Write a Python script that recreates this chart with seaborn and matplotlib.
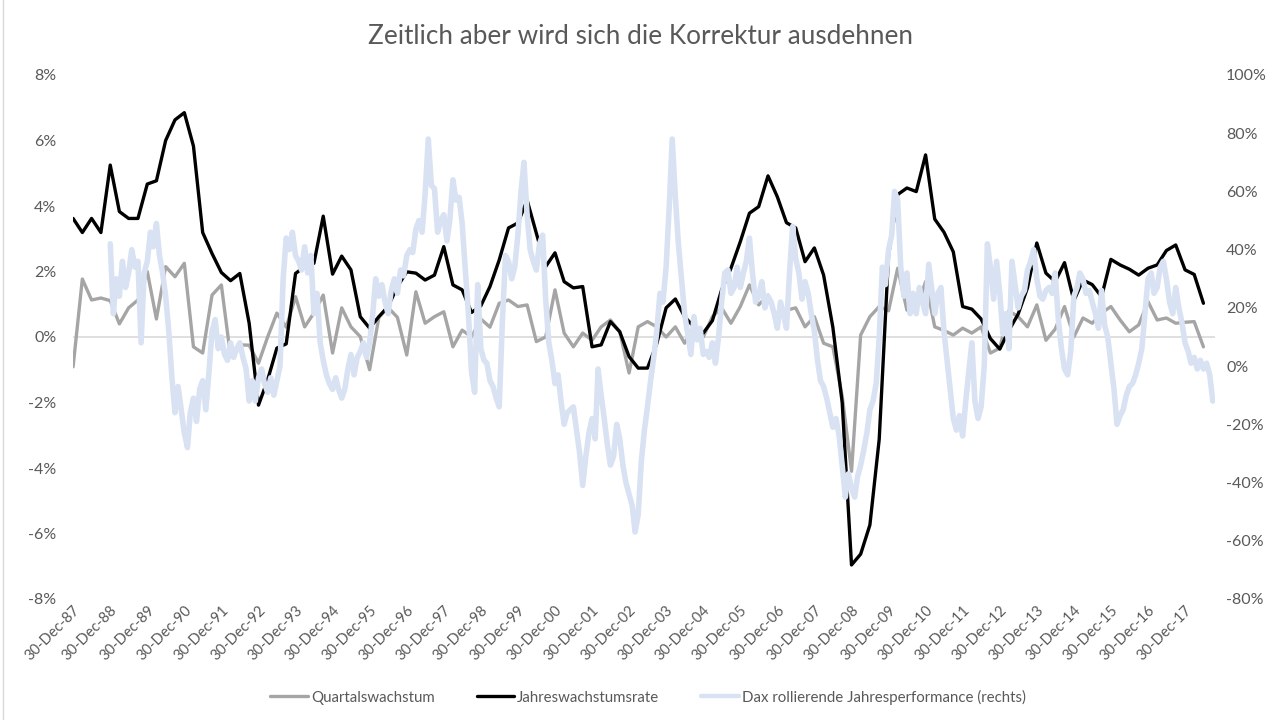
import pandas as pd
import matplotlib
matplotlib.use("Agg")
import matplotlib.pyplot as plt
from matplotlib.lines import Line2D
from matplotlib.ticker import MultipleLocator, FuncFormatter
import matplotlib.dates as mdates
import seaborn as sns

# Quartalsdaten (erster Punkt liegt auf dem Dec-87 Tick)
quarter_start = "1987-12-31"

# Quartalswachstum in %
quartal = [
    -0.91, 1.77, 1.13, 1.19, 1.11, 0.40, 0.89, 1.13, 2.00, 0.55, 2.15, 1.84, 2.25,
    -0.30, -0.49, 1.28, 1.59, -0.60, -0.24, -0.25, -0.80, 0.00, 0.73, 0.30, 1.23,
    0.31, 0.73, 1.28, -0.49, 0.89, 0.31, 0.01, -1.00, 0.60, 0.90, 0.60, -0.55,
    1.38, 0.42, 0.62, 0.77, -0.30, 0.21, 0.00, 0.55, 0.30, 1.03, 1.13, 0.93,
    0.98, -0.14, 0.00, 1.44, 0.12, -0.30, 0.12, -0.10, 0.31, 0.52, 0.16, -1.10,
    0.31, 0.47, 0.31, 0.00, 0.31, -0.19, 0.31, 0.00, 0.62, 0.89, 0.42, 0.93,
    1.59, 0.98, 1.28, 0.52, 0.82, 0.89, 0.31, 0.62, -0.19, -0.30, -1.80, -4.10,
    0.06, 0.62, 0.93, 0.80, 2.10, 0.82, 0.82, 1.69, 0.31, 0.20, 0.06, 0.27,
    0.12, 0.31, -0.49, -0.34, 0.80, 0.62, 0.31, 0.98, -0.10, 0.24, 0.93, 0.00,
    0.58, 0.42, 0.73, 0.93, 0.52, 0.16, 0.37, 1.08, 0.52, 0.58, 0.42, 0.45,
    0.47, -0.30,
]

# Jahreswachstumsrate in %
jahres = [
    3.62, 3.19, 3.62, 3.19, 5.25, 3.83, 3.62, 3.62, 4.67, 4.77, 6.00, 6.63, 6.85,
    5.83, 3.19, 2.55, 1.97, 1.72, 1.94, 0.42, -2.08, -1.31, -0.34, -0.21, 1.94,
    2.15, 2.25, 3.69, 1.92, 2.47, 2.05, 0.62, 0.27, 0.62, 0.93, 1.54, 1.99,
    1.95, 1.74, 1.89, 2.76, 1.59, 1.44, 0.75, 0.95, 1.54, 2.35, 3.33, 3.48,
    4.18, 3.17, 2.15, 2.57, 1.69, 1.50, 1.54, -0.30, -0.24, 0.47, 0.16, -0.60,
    -0.95, -0.95, -0.20, 0.89, 1.16, 0.62, 0.31, 0.12, 0.50, 1.44, 2.10, 2.91,
    3.78, 3.98, 4.92, 4.28, 3.49, 3.33, 2.30, 2.72, 1.89, 0.30, -2.00, -6.96,
    -6.63, -5.74, -3.12, 2.50, 4.35, 4.55, 4.44, 5.56, 3.60, 3.20, 2.60, 0.93,
    0.85, 0.55, -0.05, -0.37, 0.20, 0.70, 1.50, 2.87, 1.95, 1.69, 2.27, 1.11,
    1.74, 1.60, 1.23, 2.37, 2.20, 2.07, 1.89, 2.10, 2.20, 2.64, 2.81, 2.05,
    1.91, 1.03,
]

# Dax rollierende Jahresperformance in %, Monatsende ab Dec-88
dax_start = "1988-12-31"
dax_89_93 = [
    42, 18, 30, 24, 36, 27, 32, 40, 34, 36, 8, 32, 36,
    46, 41, 49, 38, 32, 24, 12, -4, -16, -7, -15, -23,
    -28, -16, -11, -19, -8, -5, -15, -2, 12, 16, 6, 10,
    4, 2, 8, 3, 6, 8, 3, -1, -12, -5, -12, -4,
    -1, -6, -9, -4, -10, -5, 0, 30, 44, 40, 46, 38,
]
dax_94_98 = [
    36, 33, 41, 32, 38, 18, 25, 8, 2, -3, -6, -8,
    -4, -8, -11, -8, -1, 4, -3, 3, 5, 8, 3, 8,
    18, 30, 24, 28, 22, 18, 26, 30, 25, 33, 31, 38,
    40, 39, 47, 50, 46, 59, 78, 62, 61, 46, 50, 52,
    43, 50, 64, 57, 58, 49, 33, 18, -2, -9, 28, 6,
]
dax_99_03 = [
    2, 1, -5, -7, -11, -14, 15, 38, 36, 30, 34, 45,
    60, 70, 52, 40, 36, 33, 42, 45, 23, 8, 2, -6,
    -3, -12, -20, -16, -15, -14, -22, -30, -41, -31, -23, -18,
    -25, -1, -10, -18, -27, -34, -31, -20, -25, -34, -40, -44,
    -48, -57, -51, -33, -22, -14, -5, 3, 12, 25, 22, 34,
]
dax_04_08 = [
    55, 78, 58, 42, 30, 18, 11, 4, 17, 9, 13, 4,
    5, 3, 8, 1, 10, 22, 32, 33, 25, 27, 34, 27,
    32, 36, 44, 32, 22, 24, 29, 20, 24, 22, 18, 13,
    22, 18, 13, 32, 48, 37, 32, 23, 29, 25, 18, 12,
    2, -5, -7, -11, -16, -21, -18, -24, -34, -45, -37, -42,
]
dax_09_13 = [
    -45, -38, -34, -29, -23, -15, -12, -6, 10, 34, 28, 40,
    45, 60, 57, 34, 24, 32, 18, 25, 18, 27, 22, 18,
    35, 27, 18, 25, 27, 12, 2, -8, -18, -22, -17, -24,
    -12, -2, 8, -12, -18, -14, 0, 42, 34, 23, 36, 25,
    11, 18, 6, 36, 28, 20, 24, 26, 33, 36, 40, 30,
]
dax_14_18 = [
    24, 23, 26, 27, 25, 32, 16, 6, -1, -3, 5, 24,
    27, 32, 30, 25, 26, 22, 18, 13, 26, 14, 10, 1,
    -8, -20, -17, -15, -10, -7, -6, -3, 1, 6, 18, 30,
    32, 25, 27, 34, 36, 30, 22, 18, 27, 20, 15, 8,
    5, 1, 3, -1, 2, -1, 1, -3, -12,
]
dax = dax_89_93 + dax_94_98 + dax_99_03 + dax_04_08 + dax_09_13 + dax_14_18

tick_years = list(range(1987, 2018))

label_q = "Quartalswachstum"
label_j = "Jahreswachstumsrate"
label_d = "Dax rollierende Jahresperformance (rechts)"

col_q = "#A5A5A5"
col_j = "#000000"
col_d = "#D9E2F3"
txt = "#595959"

sns.set_theme(style="white")
plt.rcParams["font.family"] = ["Lato", "DejaVu Sans"]

quarters = pd.date_range(quarter_start, periods=len(quartal), freq="QE")
months = pd.date_range(dax_start, periods=len(dax), freq="ME")

W, H = 1277, 720
fig = plt.figure(figsize=(W / 100, H / 100), dpi=100)
fig.patch.set_facecolor("white")
ax = fig.add_axes([73 / W, 1 - 599 / H, (1215 - 73) / W, (599 - 75) / H])
ax2 = ax.twinx()

ax.axhline(0, color="#D9D9D9", lw=1.2, zorder=0)
sns.lineplot(x=quarters, y=quartal, ax=ax, color=col_q, lw=2.4, legend=False)
sns.lineplot(x=quarters, y=jahres, ax=ax, color=col_j, lw=2.4, legend=False)
sns.lineplot(x=months, y=dax, ax=ax2, color=col_d, lw=4.0, legend=False)

# Achsen
pct = FuncFormatter(lambda v, p: f"{v:.0f}%")
ax.set_ylim(-8, 8)
ax.yaxis.set_major_locator(MultipleLocator(2))
ax.yaxis.set_major_formatter(pct)
ax2.set_ylim(-80, 100)
ax2.yaxis.set_major_locator(MultipleLocator(20))
ax2.yaxis.set_major_formatter(pct)

ax.set_xlim(pd.Timestamp("1987-12-31"), pd.Timestamp("2018-10-22"))
ax.set_xticks([pd.Timestamp(f"{y}-12-30") for y in tick_years])
ax.xaxis.set_major_formatter(mdates.DateFormatter("%d-%b-%y"))

for a in (ax, ax2):
    for s in a.spines.values():
        s.set_visible(False)
    a.set_xlabel("")
    a.set_ylabel("")
    a.grid(False)

ax.tick_params(axis="y", length=0, pad=12, labelsize=11.5, labelcolor=txt)
ax2.tick_params(axis="y", length=0, pad=8, labelsize=11.5, labelcolor=txt)
ax.tick_params(axis="x", length=0, pad=3, labelsize=10.5, labelcolor=txt)
for lab in ax.get_xticklabels():
    lab.set_rotation(45)
    lab.set_ha("right")
    lab.set_rotation_mode("anchor")

fig.text(641 / W, 1 - 37 / H, "Zeitlich aber wird sich die Korrektur ausdehnen",
         ha="center", va="center", fontsize=18.8, color=txt)

handles = [
    Line2D([], [], color=col_q, lw=2.4),
    Line2D([], [], color=col_j, lw=2.4),
    Line2D([], [], color=col_d, lw=3.2),
]
fig.legend(handles, [label_q, label_j, label_d], loc="center",
           bbox_to_anchor=(648 / W, 1 - 697 / H), ncol=3, frameon=False,
           fontsize=10.8, labelcolor=txt, handlelength=2.5, handletextpad=0.2,
           columnspacing=2.8)

fig.add_artist(Line2D([2.5 / W, 2.5 / W], [0, 1], color="#D9D9D9", lw=1))

fig.savefig("out.png", dpi=100)
